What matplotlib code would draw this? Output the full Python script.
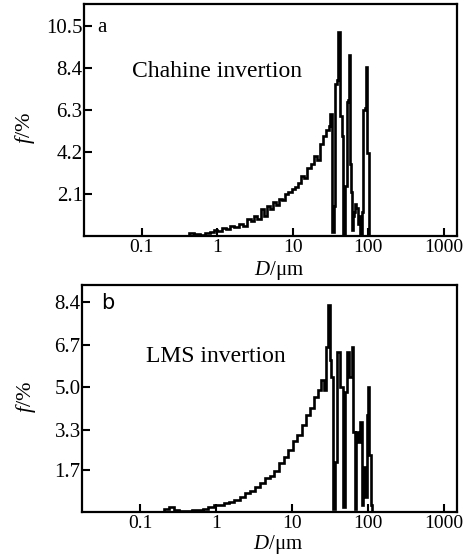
import numpy as np
import matplotlib
matplotlib.use("Agg")
import matplotlib.pyplot as plt

plt.rcParams['font.family'] = ['Liberation Serif', 'DejaVu Serif']
plt.rcParams['mathtext.fontset'] = 'custom'
plt.rcParams['mathtext.rm'] = 'Liberation Serif'
plt.rcParams['mathtext.it'] = 'Liberation Serif:italic'

### data (bin edges in um, bin heights in %) ###
# panel a - Chahine invertion
edges_a = [0.42, 0.5, 0.6, 0.7, 0.8, 0.9, 1.0, 1.15, 1.3, 1.5, 1.7, 1.95, 2.2, 2.5, 2.8,
           3.1, 3.4, 3.8, 4.2, 4.6, 5.0, 5.5, 6.0, 6.6, 7.3, 8.0, 8.8, 9.7, 10.7, 11.8,
           13.0, 14.3, 15.7, 17.3, 19.0, 21.0, 23.0, 25.3, 27.8, 30.0, 31.4, 33.3, 35.0,
           36.6, 38.3, 40.1, 42.5, 44.5, 46.6, 49.5, 52.6, 54.2, 55.9, 57.6, 59.5, 61.3,
           63.2, 65.0, 67.1, 70.0, 73.6, 76.0, 78.3, 82.0, 85.8, 90.0, 94.2, 97.2, 100.0, 103.0]
f_a = [0.12, 0.1, 0.05, 0.12, 0.2, 0.3, 0.25, 0.4, 0.35, 0.5, 0.45, 0.6, 0.5, 0.85,
       0.75, 1.0, 0.85, 1.35, 1.0, 1.5, 1.35, 1.7, 1.55, 1.85, 1.8, 2.1, 2.2, 2.35, 2.45,
       2.65, 3.0, 2.9, 3.4, 3.6, 4.0, 3.8, 4.6, 5.0, 5.3, 5.5, 6.1, 0.2, 1.5, 7.6, 7.8,
       10.2, 6.0, 5.0, 0.1, 2.5, 6.7, 6.8, 9.05, 3.6, 2.2, 0.3, 1.0, 1.2, 1.6, 1.4, 0.6,
       1.0, 0.0, 1.2, 6.3, 6.4, 8.45, 4.15, 4.15]

# panel b - LMS invertion
edges_b = [0.21, 0.24, 0.28, 0.33, 0.4, 0.48, 0.57, 0.68, 0.8, 0.95, 1.1, 1.3, 1.5, 1.75,
           2.05, 2.4, 2.8, 3.3, 3.8, 4.4, 5.1, 5.9, 6.8, 7.8, 9.0, 10.3, 11.8, 13.5, 15.4,
           17.5, 19.8, 22.3, 24.5, 26.5, 28.0, 29.8, 31.5, 33.0, 34.5, 37.0, 39.0, 42.7,
           46.9, 49.9, 52.9, 57.0, 61.6, 63.5, 67.2, 71.3, 75.0, 78.3, 83.2, 86.1, 91.4,
           97.1, 100.0, 103.0, 110.0, 113.0]
f_b = [0.1, 0.18, 0.06, 0.04, 0.05, 0.06, 0.08, 0.12, 0.2, 0.28, 0.3, 0.38, 0.4, 0.48,
       0.6, 0.75, 0.85, 1.0, 1.15, 1.35, 1.45, 1.65, 1.95, 2.2, 2.5, 2.85, 3.1, 3.5, 3.9,
       4.15, 4.6, 4.9, 5.3, 4.9, 6.6, 8.3, 6.1, 5.4, 0.1, 2.0, 6.4, 5.0, 0.2, 4.8, 6.4,
       5.4, 6.6, 3.2, 0.1, 3.2, 2.8, 3.6, 0.3, 1.8, 0.6, 3.9, 5.0, 2.3, 0.3]

xticks = [0.1, 1, 10, 100, 1000]
xticklabels = ['0.1', '1', '10', '100', '1000']
yticks_a = [2.1, 4.2, 6.3, 8.4, 10.5]
yticks_b = [1.7, 3.3, 5.0, 6.7, 8.4]

fig = plt.figure(figsize=(4.72, 5.55), dpi=100)
ax1 = fig.add_axes([0.178, 0.575, 0.790, 0.418])
ax2 = fig.add_axes([0.174, 0.0775, 0.794, 0.409])

# ax, edges, heights, ymax, yticks, tag, title, tag pos, title pos, ylabel pos, xlabel y
panels = [(ax1, edges_a, f_a, 11.6, yticks_a, 'a', 'Chahine invertion', (0.035, 0.90), (0.13, 0.707), (-0.125, 0.466), -0.1),
          (ax2, edges_b, f_b, 9.1, yticks_b, 'b', 'LMS invertion', (0.05, 0.92), (0.17, 0.683), (-0.118, 0.507), -0.094)]

for ax, edges, f, ytop, yt, tag, label, tagpos, labpos, ylpos, xly in panels:
    # closed step outline: start at 0, go through bins, back to 0
    xs = np.repeat(edges, 2)
    ys = np.concatenate([[0], np.repeat(f, 2), [0]])
    ax.plot(xs, ys, color='black', lw=1.9, solid_joinstyle='miter')
    ax.set_xscale('log')
    ax.set_xlim(0.0173, 1500)
    ax.set_ylim(0, ytop)
    ax.set_xticks(xticks)
    ax.set_xticklabels(xticklabels)
    ax.xaxis.set_minor_locator(matplotlib.ticker.NullLocator())
    ax.set_yticks(yt)
    ax.set_yticklabels(['%.1f' % v for v in yt])
    ax.tick_params(direction='in', length=6, width=1.5)
    ax.tick_params(axis='x', labelsize=14, pad=2.5)
    ax.tick_params(axis='y', labelsize=15, pad=1)
    for s in ax.spines.values():
        s.set_linewidth(1.6)
    ax.text(tagpos[0], tagpos[1], tag, transform=ax.transAxes, fontsize=15,
            family=['DejaVu Sans'] if tag == 'b' else None, va='center', ha='left')
    ax.text(labpos[0], labpos[1], label, transform=ax.transAxes, fontsize=17,
            va='center', ha='left')
    ax.set_xlabel(r'$D$/μm', fontsize=15, labelpad=0)
    ax.xaxis.set_label_coords(0.523, xly)
    ax.set_ylabel(r'$f$/%', fontsize=16)
    ax.yaxis.set_label_coords(ylpos[0], ylpos[1])

plt.savefig('out.png', dpi=100)
